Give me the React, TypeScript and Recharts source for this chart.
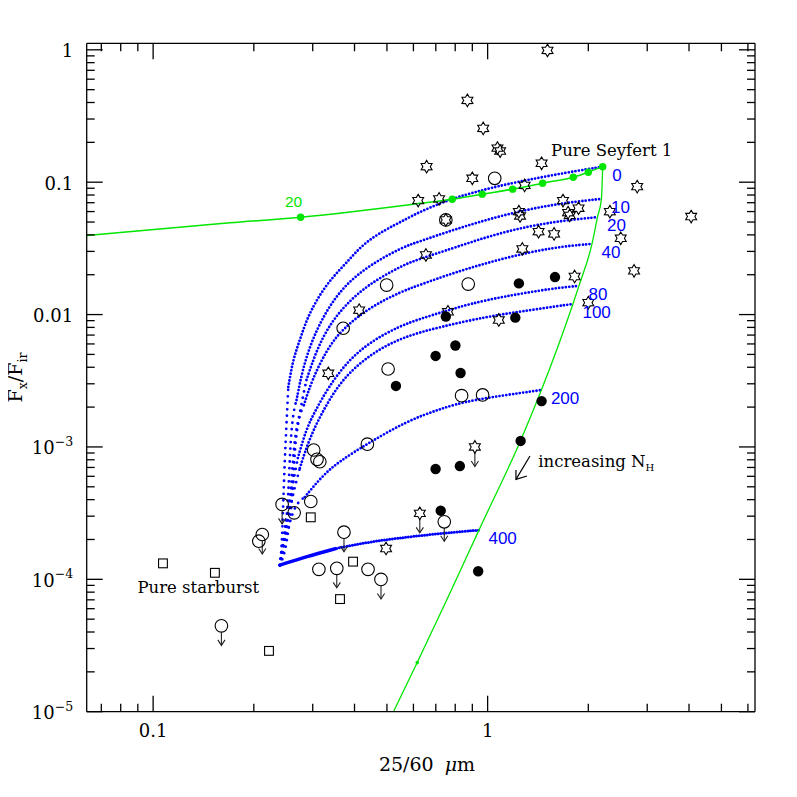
import React from 'react';
import { ComposedChart, Line, Scatter, XAxis, YAxis } from 'recharts';

const W = 781;
const H = 781;
const SERIF = "'DejaVu Serif', 'Liberation Serif', serif";
const SANS = "'Liberation Sans', Arial, sans-serif";
const BLUE = '#0000ff';
const GREEN = '#00e600';
const INK = '#000000';

const X_DOMAIN: [number, number] = [0.0633, 6.3];
const Y_DOMAIN: [number, number] = [1e-5, 1.12];

const xTicks = [0.07, 0.08, 0.09, 0.1, 0.2, 0.3, 0.4, 0.5, 0.6, 0.7, 0.8, 0.9, 1, 2, 3, 4, 5, 6];
const yTicks = [
  1e-5, 2e-5, 3e-5, 4e-5, 5e-5, 6e-5, 7e-5, 8e-5, 9e-5,
  1e-4, 2e-4, 3e-4, 4e-4, 5e-4, 6e-4, 7e-4, 8e-4, 9e-4,
  1e-3, 2e-3, 3e-3, 4e-3, 5e-3, 6e-3, 7e-3, 8e-3, 9e-3,
  0.01, 0.02, 0.03, 0.04, 0.05, 0.06, 0.07, 0.08, 0.09,
  0.1, 0.2, 0.3, 0.4, 0.5, 0.6, 0.7, 0.8, 0.9, 1,
];
const xMajorLabels = [
  { v: 0.1, base: '0.1' },
  { v: 1, base: '1' },
];
const yMajorLabels = [
  { v: 1, base: '1', exp: '' },
  { v: 0.1, base: '0.1', exp: '' },
  { v: 0.01, base: '0.01', exp: '' },
  { v: 1e-3, base: '10', exp: '\u22123' },
  { v: 1e-4, base: '10', exp: '\u22124' },
  { v: 1e-5, base: '10', exp: '\u22125' },
];

// Seyfert 2 (stars)
const starPts = [
  { x: 1.51, y: 0.99 }, { x: 0.87, y: 0.415 }, { x: 0.97, y: 0.255 }, { x: 1.07, y: 0.181 },
  { x: 1.09, y: 0.172 }, { x: 1.45, y: 0.139 }, { x: 0.9, y: 0.107 }, { x: 1.29, y: 0.0946 },
  { x: 2.8, y: 0.0926 }, { x: 1.68, y: 0.0726 }, { x: 1.24, y: 0.0599 }, { x: 1.25, y: 0.0556 },
  { x: 1.74, y: 0.0589 }, { x: 1.87, y: 0.0636 }, { x: 1.76, y: 0.0561 }, { x: 2.32, y: 0.0599 },
  { x: 4.06, y: 0.055 }, { x: 1.42, y: 0.0423 }, { x: 1.58, y: 0.0407 }, { x: 2.5, y: 0.0377 },
  { x: 1.27, y: 0.0313 }, { x: 2.74, y: 0.0214 }, { x: 1.82, y: 0.0194 }, { x: 2.0, y: 0.0123 },
  { x: 1.08, y: 0.0091 }, { x: 0.657, y: 0.131 }, { x: 0.62, y: 0.0726 }, { x: 0.716, y: 0.0748 },
  { x: 0.75, y: 0.0519 }, { x: 0.654, y: 0.0282 }, { x: 0.413, y: 0.0108 }, { x: 0.761, y: 0.0105 },
  { x: 0.334, y: 0.0036 }, { x: 0.916, y: 1.0e-3, lim: true }, { x: 0.627, y: 3.15e-4, lim: true },
  { x: 0.497, y: 1.71e-4 },
];

// open circles
const openPts = [
  { x: 1.05, y: 0.107 }, { x: 0.75, y: 0.0519 }, { x: 0.499, y: 0.0167 }, { x: 0.875, y: 0.017 },
  { x: 0.37, y: 0.00788 }, { x: 0.504, y: 0.00388 }, { x: 0.836, y: 0.00244 }, { x: 0.966, y: 0.00247 },
  { x: 0.437, y: 0.00105 }, { x: 0.302, y: 9.48e-4 }, { x: 0.309, y: 8.06e-4 }, { x: 0.315, y: 7.73e-4 },
  { x: 0.243, y: 3.68e-4, lim: true }, { x: 0.296, y: 3.87e-4 }, { x: 0.264, y: 3.18e-4 },
  { x: 0.212, y: 2.18e-4, lim: true }, { x: 0.207, y: 1.94e-4 }, { x: 0.372, y: 2.27e-4, lim: true },
  { x: 0.313, y: 1.19e-4 }, { x: 0.354, y: 1.21e-4, lim: true }, { x: 0.439, y: 1.19e-4 },
  { x: 0.48, y: 9.98e-5, lim: true }, { x: 0.742, y: 2.72e-4, lim: true }, { x: 0.16, y: 4.45e-5, lim: true },
];

// filled circles
const filledPts = [
  { x: 1.59, y: 0.0192 }, { x: 1.24, y: 0.0172 }, { x: 0.75, y: 0.00967 }, { x: 1.21, y: 0.00948 },
  { x: 0.801, y: 0.00584 }, { x: 0.699, y: 0.00487 }, { x: 0.83, y: 0.00362 }, { x: 0.532, y: 0.00289 },
  { x: 1.45, y: 0.00222 }, { x: 1.255, y: 0.00111 }, { x: 0.699, y: 6.81e-4 }, { x: 0.826, y: 7.17e-4 },
  { x: 0.724, y: 3.3e-4 }, { x: 0.937, y: 1.15e-4 },
];

// open squares (starbursts)
const squarePts = [
  { x: 0.107, y: 1.32e-4 }, { x: 0.153, y: 1.12e-4 }, { x: 0.296, y: 2.94e-4 },
  { x: 0.396, y: 1.36e-4 }, { x: 0.362, y: 7.09e-5 }, { x: 0.222, y: 2.88e-5 },
];

// green mixing line (unabsorbed Seyfert + starburst)
const greenMix = [
  { x: 0.0633, y: 0.0396 }, { x: 0.1696, y: 0.0493 }, { x: 0.276, y: 0.0544 }, { x: 0.627, y: 0.0692 },
  { x: 0.784, y: 0.0744 }, { x: 0.9635, y: 0.0812 }, { x: 1.188, y: 0.0886 }, { x: 1.46, y: 0.0983 },
  { x: 1.803, y: 0.1091 }, { x: 2.0, y: 0.119 }, { x: 2.208, y: 0.131 },
];
const greenMixDots = [
  { x: 0.276, y: 0.0544 }, { x: 0.784, y: 0.0744 }, { x: 0.9635, y: 0.0812 }, { x: 1.188, y: 0.0886 },
  { x: 1.46, y: 0.0983 }, { x: 1.803, y: 0.1091 }, { x: 2.0, y: 0.119 }, { x: 2.208, y: 0.131 },
];

// green absorption track (increasing N_H)
const greenNH = [
  { x: 0.523, y: 1e-5 }, { x: 0.616, y: 2.35e-5 }, { x: 0.754, y: 6.96e-5 }, { x: 0.942, y: 2.354e-4 },
  { x: 1.253, y: 0.00111 }, { x: 1.448, y: 0.00269 }, { x: 1.799, y: 0.01203 }, { x: 1.875, y: 0.01646 },
  { x: 2.051, y: 0.0342 }, { x: 2.13, y: 0.0544 }, { x: 2.189, y: 0.0748 }, { x: 2.208, y: 0.131 },
];
const greenSmallDot = [{ x: 0.616, y: 2.35e-5 }];

// blue mixing curves for each N_H
const curve0 = [
  { x: 0.2393, y: 1.28e-4 }, { x: 0.2426, y: 1.978e-4 }, { x: 0.2451, y: 3.97e-4 }, { x: 0.2476, y: 7.96e-4 },
  { x: 0.2502, y: 1.414e-3 }, { x: 0.2536, y: 2.836e-3 }, { x: 0.2617, y: 4.537e-3 }, { x: 0.2746, y: 6.427e-3 },
  { x: 0.2874, y: 9.1e-3 }, { x: 0.308, y: 0.01289 }, { x: 0.3376, y: 0.01826 }, { x: 0.3787, y: 0.02455 },
  { x: 0.4237, y: 0.03417 }, { x: 0.4931, y: 0.0436 }, { x: 0.558, y: 0.051 }, { x: 0.6272, y: 0.05993 },
  { x: 0.7873, y: 0.07568 }, { x: 0.9484, y: 0.08597 }, { x: 1.111, y: 0.09541 }, { x: 1.568, y: 0.1136 },
  { x: 2.208, y: 0.131 },
];
const curve10 = [
  { x: 0.2393, y: 1.28e-4 }, { x: 0.246, y: 1.978e-4 }, { x: 0.2528, y: 3.97e-4 }, { x: 0.2581, y: 1.128e-3 },
  { x: 0.2684, y: 2.262e-3 }, { x: 0.2794, y: 3.813e-3 }, { x: 0.2984, y: 6.427e-3 }, { x: 0.3301, y: 0.01083 },
  { x: 0.3744, y: 0.01674 }, { x: 0.4446, y: 0.02371 }, { x: 0.558, y: 0.03243 }, { x: 0.6272, y: 0.03567 },
  { x: 0.7873, y: 0.0436 }, { x: 1.111, y: 0.05658 }, { x: 1.568, y: 0.0682 }, { x: 2.189, y: 0.0748 },
];
const curve20 = [
  { x: 0.2393, y: 1.28e-4 }, { x: 0.2476, y: 1.978e-4 }, { x: 0.2563, y: 3.97e-4 }, { x: 0.2644, y: 1.034e-3 },
  { x: 0.2755, y: 1.9e-3 }, { x: 0.2874, y: 3.203e-3 }, { x: 0.308, y: 5.4e-3 }, { x: 0.3364, y: 8.34e-3 },
  { x: 0.3757, y: 0.01182 }, { x: 0.4371, y: 0.01674 }, { x: 0.558, y: 0.02371 }, { x: 0.6272, y: 0.02633 },
  { x: 0.7873, y: 0.0317 }, { x: 1.111, y: 0.04232 }, { x: 1.568, y: 0.05036 }, { x: 2.13, y: 0.0544 },
];
const curve40 = [
  { x: 0.2393, y: 1.28e-4 }, { x: 0.2511, y: 1.978e-4 }, { x: 0.2599, y: 3.97e-4 }, { x: 0.2671, y: 1.128e-3 },
  { x: 0.2823, y: 2.073e-3 }, { x: 0.2984, y: 3.203e-3 }, { x: 0.3301, y: 5.4e-3 }, { x: 0.3654, y: 7.647e-3 },
  { x: 0.4446, y: 0.01141 }, { x: 0.558, y: 0.01508 }, { x: 0.6272, y: 0.01674 }, { x: 0.7873, y: 0.02062 },
  { x: 1.111, y: 0.02665 }, { x: 1.568, y: 0.03226 }, { x: 2.051, y: 0.0342 },
];
const curve80 = [
  { x: 0.2393, y: 1.28e-4 }, { x: 0.246, y: 2.158e-4 }, { x: 0.2563, y: 3.97e-4 }, { x: 0.2708, y: 8.24e-4 },
  { x: 0.2874, y: 1.39e-3 }, { x: 0.3065, y: 1.9e-3 }, { x: 0.333, y: 2.787e-3 }, { x: 0.3795, y: 4.383e-3 },
  { x: 0.4446, y: 6.208e-3 }, { x: 0.5467, y: 8.2e-3 }, { x: 0.6272, y: 9.26e-3 }, { x: 0.75, y: 0.01065 },
  { x: 0.8852, y: 0.01203 }, { x: 1.111, y: 0.01366 }, { x: 1.568, y: 0.0158 }, { x: 1.875, y: 0.01646 },
];
const curve100 = [
  { x: 0.2393, y: 1.28e-4 }, { x: 0.2476, y: 2.158e-4 }, { x: 0.2599, y: 3.97e-4 }, { x: 0.2746, y: 6.93e-4 },
  { x: 0.2941, y: 1.188e-3 }, { x: 0.3262, y: 2.0e-3 }, { x: 0.3693, y: 3.318e-3 }, { x: 0.4508, y: 5.13e-3 },
  { x: 0.558, y: 6.77e-3 }, { x: 0.72, y: 8.06e-3 }, { x: 0.9952, y: 9.64e-3 }, { x: 1.249, y: 0.01052 },
  { x: 1.799, y: 0.01203 },
];
const curve200 = [
  { x: 0.2393, y: 1.28e-4 }, { x: 0.2443, y: 1.751e-4 }, { x: 0.2511, y: 2.235e-4 }, { x: 0.2617, y: 3.165e-4 },
  { x: 0.2841, y: 4.18e-4 }, { x: 0.3218, y: 6.13e-4 }, { x: 0.3617, y: 7.82e-4 }, { x: 0.4356, y: 1.052e-3 },
  { x: 0.5736, y: 1.57e-3 }, { x: 0.72, y: 1.934e-3 }, { x: 0.8852, y: 2.262e-3 }, { x: 1.448, y: 2.69e-3 },
];
const curve400 = [
  { x: 0.2393, y: 1.28e-4 }, { x: 0.2874, y: 1.484e-4 }, { x: 0.3535, y: 1.713e-4 }, { x: 0.4446, y: 1.92e-4 },
  { x: 0.5344, y: 2.038e-4 }, { x: 0.6721, y: 2.185e-4 }, { x: 0.942, y: 2.354e-4 },
];

const curveNames = ['0', '10', '20', '40', '80', '100', '200', '400'];
const curveData = [curve0, curve10, curve20, curve40, curve80, curve100, curve200, curve400];

// anchors for text annotations (data coordinates)
const seyfertPoint = { x: 2.208, y: 0.131 };
const green20Point = { x: 0.276, y: 0.0544 };
const starburstLabelPoint = { x: 0.1364, y: 7.9e-5 };
const increasingLabelPoint = { x: 1.417, y: 7.087e-4 };

// ---------- styles (kept separate from data) ----------
const curveStyle = [
  { split: 5 }, { split: 4 }, { split: 5 }, { split: 4 },
  { split: 3 }, { split: 3 }, { split: 4 }, { split: 2, solidStart: true },
];

const isMajor = (v: number) => Math.abs(Math.log10(v) - Math.round(Math.log10(v))) < 1e-6;
const near = (a: number, b: number) => Math.abs(a - b) / b < 1e-6;

function XTickMark(props: any) {
  const { x, y, payload, side } = props;
  const v = payload.value as number;
  const major = isMajor(v);
  const len = major ? 16 : 8;
  const dir = side === 'bottom' ? -1 : 1;
  const lab = side === 'bottom' ? xMajorLabels.find((l) => near(v, l.v)) : undefined;
  return (
    <g>
      <line x1={x} y1={y} x2={x} y2={y + dir * len} stroke={INK} strokeWidth={1.3} />
      {lab && (
        <text x={x} y={y + 25.6} textAnchor="middle" fontFamily={SERIF} fontSize={18} fill={INK}>
          {lab.base}
        </text>
      )}
    </g>
  );
}

function YTickMark(props: any) {
  const { x, y, payload, side } = props;
  const v = payload.value as number;
  const major = isMajor(v);
  const len = major ? 16 : 8;
  const dir = side === 'left' ? 1 : -1;
  const lab = side === 'left' ? yMajorLabels.find((l) => near(v, l.v)) : undefined;
  return (
    <g>
      <line x1={x} y1={y} x2={x + dir * len} y2={y} stroke={INK} strokeWidth={1.3} />
      {lab && (
        <text x={x - 13.5} y={y + 7.5} textAnchor="end" fontFamily={SERIF} fontSize={18} fill={INK}>
          {lab.base}
          {lab.exp && (
            <tspan dy={-8.5} fontSize={12.5}>
              {lab.exp}
            </tspan>
          )}
        </text>
      )}
    </g>
  );
}

function starPath(cx: number, cy: number, R: number, r: number) {
  let d = '';
  for (let i = 0; i < 12; i++) {
    const a = -Math.PI / 2 + (i * Math.PI) / 6;
    const rad = i % 2 === 0 ? R : r;
    d += (i ? 'L' : 'M') + (cx + rad * Math.cos(a)).toFixed(2) + ',' + (cy + rad * Math.sin(a)).toFixed(2);
  }
  return d + 'Z';
}

function limitArrow(cx: number, cy: number, start: number) {
  return (
    <g stroke="#222" strokeWidth={1.1} fill="none">
      <line x1={cx} y1={cy + start} x2={cx} y2={cy + 19.5} />
      <polyline points={`${cx - 3.6},${cy + 14} ${cx},${cy + 19.5} ${cx + 3.6},${cy + 14}`} />
    </g>
  );
}

const renderStar = (p: any) => (
  <g>
    {p.payload && p.payload.lim ? limitArrow(p.cx, p.cy, 5.5) : null}
    <path d={starPath(p.cx, p.cy, 6.3, 3.7)} fill="none" stroke={INK} strokeWidth={1.1} />
  </g>
);
const renderOpen = (p: any) => (
  <g>
    {p.payload && p.payload.lim ? limitArrow(p.cx, p.cy, 6.3) : null}
    <circle cx={p.cx} cy={p.cy} r={6.3} fill="none" stroke={INK} strokeWidth={1.1} />
  </g>
);
const renderFilled = (p: any) => <circle cx={p.cx} cy={p.cy} r={5.2} fill={INK} stroke="none" />;
const renderSquare = (p: any) => (
  <rect x={p.cx - 4.4} y={p.cy - 4.4} width={8.8} height={8.8} fill="none" stroke={INK} strokeWidth={1.1} />
);
const renderGreenDot = (p: any) => <circle cx={p.cx} cy={p.cy} r={3.7} fill={GREEN} stroke="none" />;
const renderGreenSmall = (p: any) => <circle cx={p.cx} cy={p.cy} r={1.8} fill={GREEN} stroke="none" />;

function textMark(key: string, pt: { x: number; y: number }, render: (cx: number, cy: number) => React.ReactElement) {
  return (
    <Scatter
      key={key}
      data={[pt]}
      xAxisId="b"
      yAxisId="l"
      isAnimationActive={false}
      shape={(p: any) => render(p.cx, p.cy)}
    />
  );
}

export default function App() {
  const lineCommon = {
    xAxisId: 'b',
    yAxisId: 'l',
    dataKey: 'y',
    dot: false,
    activeDot: false,
    isAnimationActive: false,
  };

  const blueLines: React.ReactElement[] = [];
  curveData.forEach((data, i) => {
    const st = curveStyle[i];
    const lower = data.slice(0, st.split + 1);
    const upper = data.slice(st.split);
    if (st.solidStart) {
      blueLines.push(
        <Line key={`c${i}a`} {...lineCommon} type="basis" data={lower} stroke={BLUE} strokeWidth={3.4} />
      );
      blueLines.push(
        <Line key={`c${i}b`} {...lineCommon} type="basis" data={upper} stroke={BLUE} strokeWidth={3.0}
          strokeDasharray="0 2.7" strokeLinecap="round" />
      );
    } else {
      blueLines.push(
        <Line key={`c${i}a`} {...lineCommon} type="monotone" data={lower} stroke={BLUE} strokeWidth={2.8}
          strokeDasharray="0 6.5" strokeLinecap="round" />
      );
      blueLines.push(
        <Line key={`c${i}b`} {...lineCommon} type="basis" data={upper} stroke={BLUE} strokeWidth={2.8}
          strokeDasharray="0 3.4" strokeLinecap="round" />
      );
    }
  });

  const curveLabels = curveData.map((data, i) =>
    textMark(`lab${i}`, data[data.length - 1], (cx, cy) => (
      <text x={cx + 9.5} y={cy + 14} fill={BLUE} fontFamily={SANS} fontSize={17}>
        {curveNames[i]}
      </text>
    ))
  );

  return (
    <div style={{ position: 'relative', width: W, height: H }}>
      <ComposedChart width={W} height={H} margin={{ top: 34.3, right: 33, bottom: 37.3, left: 18.7 }}>
        <XAxis
          xAxisId="b"
          dataKey="x"
          type="number"
          scale="log"
          domain={X_DOMAIN}
          allowDataOverflow
          ticks={xTicks}
          interval={0}
          tickSize={0}
          tickMargin={0}
          tickLine={false}
          axisLine={{ stroke: INK, strokeWidth: 1.3 }}
          tick={(p: any) => <XTickMark {...p} side="bottom" />}
          height={40}
        />
        <XAxis
          xAxisId="t"
          orientation="top"
          dataKey="x"
          type="number"
          scale="log"
          domain={X_DOMAIN}
          allowDataOverflow
          ticks={xTicks}
          interval={0}
          tickSize={0}
          tickMargin={0}
          tickLine={false}
          axisLine={{ stroke: INK, strokeWidth: 1.3 }}
          tick={(p: any) => <XTickMark {...p} side="top" />}
          height={1}
        />
        <YAxis
          yAxisId="l"
          dataKey="y"
          type="number"
          scale="log"
          domain={Y_DOMAIN}
          allowDataOverflow
          ticks={yTicks}
          interval={0}
          tickSize={0}
          tickMargin={0}
          tickLine={false}
          axisLine={{ stroke: INK, strokeWidth: 1.3 }}
          tick={(p: any) => <YTickMark {...p} side="left" />}
          width={60}
        />
        <YAxis
          yAxisId="r"
          orientation="right"
          dataKey="y"
          type="number"
          scale="log"
          domain={Y_DOMAIN}
          allowDataOverflow
          ticks={yTicks}
          interval={0}
          tickSize={0}
          tickMargin={0}
          tickLine={false}
          axisLine={{ stroke: INK, strokeWidth: 1.3 }}
          tick={(p: any) => <YTickMark {...p} side="right" />}
          width={1}
        />

        <Scatter
          xAxisId="t"
          yAxisId="r"
          data={[{ x: 1, y: 0.01 }]}
          isAnimationActive={false}
          shape={() => <g />}
        />

        {blueLines}

        <Line {...lineCommon} type="monotone" data={greenMix} stroke={GREEN} strokeWidth={1.5} />
        <Line {...lineCommon} type="monotone" data={greenNH} stroke={GREEN} strokeWidth={1.3} />

        <Scatter data={greenMixDots} xAxisId="b" yAxisId="l" isAnimationActive={false} shape={renderGreenDot} />
        <Scatter data={greenSmallDot} xAxisId="b" yAxisId="l" isAnimationActive={false} shape={renderGreenSmall} />

        <Scatter data={squarePts} xAxisId="b" yAxisId="l" isAnimationActive={false} shape={renderSquare} />
        <Scatter data={filledPts} xAxisId="b" yAxisId="l" isAnimationActive={false} shape={renderFilled} />
        <Scatter data={openPts} xAxisId="b" yAxisId="l" isAnimationActive={false} shape={renderOpen} />
        <Scatter data={starPts} xAxisId="b" yAxisId="l" isAnimationActive={false} shape={renderStar} />

        {curveLabels}

        {textMark('seyfert', seyfertPoint, (cx, cy) => (
          <text x={cx + 9} y={cy - 11} textAnchor="middle" fontFamily={SERIF} fontSize={16.5} fill={INK}>
            Pure Seyfert 1
          </text>
        ))}
        {textMark('g20', green20Point, (cx, cy) => (
          <text x={cx - 7} y={cy - 10} textAnchor="middle" fontFamily={SANS} fontSize={15.5} fill={GREEN}>
            20
          </text>
        ))}
        {textMark('sb', starburstLabelPoint, (cx, cy) => (
          <text x={cx} y={cy} textAnchor="middle" fontFamily={SERIF} fontSize={16.5} fill={INK}>
            Pure starburst
          </text>
        ))}
        {textMark('inc', increasingLabelPoint, (cx, cy) => (
          <g>
            <g stroke={INK} strokeWidth={1.2} fill="none">
              <line x1={cx - 8.3} y1={cy - 10.7} x2={cx - 22.3} y2={cy + 12.6} />
              <polyline
                points={`${cx - 11.3},${cy + 9.3} ${cx - 22.3},${cy + 12.6} ${cx - 22.3},${cy + 3.3}`}
              />
            </g>
            <text x={cx} y={cy} fontFamily={SERIF} fontSize={16.5} fill={INK}>
              increasing N
              <tspan dy={4} fontSize={10}>
                H
              </tspan>
            </text>
          </g>
        ))}
      </ComposedChart>

      <svg
        width={W + 8}
        height={H + 8}
        style={{ position: 'absolute', left: -8, top: -8, pointerEvents: 'none', overflow: 'visible' }}
      >
        <text x={427} y={770.5} textAnchor="middle" fontFamily={SERIF} fontSize={19} fill={INK}>
          25/60
          <tspan dx={11} fontStyle="italic">
            {'\u03bc'}
          </tspan>
          m
        </text>
        <text
          x={22}
          y={377.5}
          transform="rotate(-90 22 377.5)"
          textAnchor="middle"
          fontFamily={SERIF}
          fontSize={19}
          fill={INK}
        >
          F
          <tspan dy={5} fontSize={12.5}>
            x
          </tspan>
          <tspan dy={-5}>/F</tspan>
          <tspan dy={5} fontSize={12.5}>
            ir
          </tspan>
        </text>
      </svg>
    </div>
  );
}
